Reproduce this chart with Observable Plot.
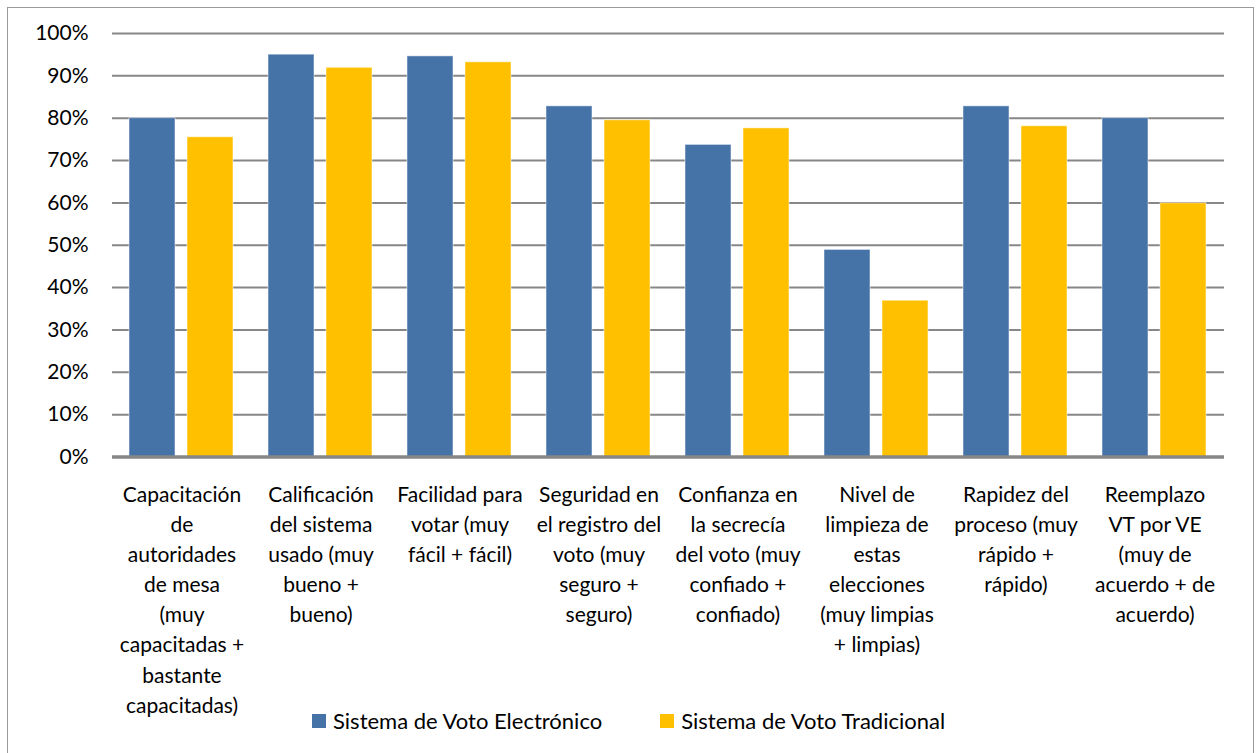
<!DOCTYPE html>
<html>
<head>
<meta charset="utf-8">
<script src="https://cdn.jsdelivr.net/npm/d3@7"></script>
<script src="https://cdn.jsdelivr.net/npm/@observablehq/plot@0.6"></script>
<style>
  html, body { margin: 0; padding: 0; background: #fff; overflow: hidden; }
  #wrap { position: relative; width: 1257px; height: 753px; overflow: hidden; font-family: Lato, "Open Sans", sans-serif; }
  #frame { position: absolute; left: 7px; top: 7px; width: 1247px; height: 800px; border: 1.5px solid #9a9a9a; box-sizing: border-box; }
  #chart { position: absolute; left: 0; top: 0; }
  #legend { position: absolute; top: 707px; left: 312px; display: flex; align-items: center; font-size: 22px; color: #000; }
  .item { display: flex; align-items: center; }
  .sw { width: 14px; height: 14px; margin-right: 7px; }
</style>
</head>
<body>
<div id="wrap">
  <div id="frame"></div>
  <div id="chart"></div>
  <div id="legend"></div>
</div>
<script>
const categories = ["Capacitación", "Calificación", "Facilidad", "Seguridad", "Confianza", "Nivel", "Rapidez", "Reemplazo"];
const tickLabels = [
  "Capacitación\nde\nautoridades\nde mesa\n(muy\ncapacitadas +\nbastante\ncapacitadas)",
  "Calificación\ndel sistema\nusado (muy\nbueno +\nbueno)",
  "Facilidad para\nvotar (muy\nfácil + fácil)",
  "Seguridad en\nel registro del\nvoto (muy\nseguro +\nseguro)",
  "Confianza en\nla secrecía\ndel voto (muy\nconfiado +\nconfiado)",
  "Nivel de\nlimpieza de\nestas\nelecciones\n(muy limpias\n+ limpias)",
  "Rapidez del\nproceso (muy\nrápido +\nrápido)",
  "Reemplazo\nVT por VE\n(muy de\nacuerdo + de\nacuerdo)"
];
const seriesNames = ["Sistema de Voto Electrónico", "Sistema de Voto Tradicional"];
const electronico = [0.80, 0.95, 0.946, 0.828, 0.737, 0.489, 0.828, 0.80];
const tradicional = [0.755, 0.919, 0.932, 0.795, 0.776, 0.369, 0.781, 0.599];
const seriesColors = ["#4572A7", "#FFC000"];
const yTicks = [0, 0.1, 0.2, 0.3, 0.4, 0.5, 0.6, 0.7, 0.8, 0.9, 1.0];
const gridTicks = [0.1, 0.2, 0.3, 0.4, 0.5, 0.6, 0.7, 0.8, 0.9, 1.0];

const data = [];
categories.forEach((c, i) => {
  data.push({category: c, series: seriesNames[0], value: electronico[i]});
  data.push({category: c, series: seriesNames[1], value: tradicional[i]});
});
const labelOf = new Map(categories.map((c, i) => [c, tickLabels[i]]));

const chart = Plot.plot({
  width: 1257,
  height: 753,
  marginLeft: 109,
  marginRight: 30,
  marginTop: 33,
  marginBottom: 296.5,
  style: {fontFamily: "Lato, 'Open Sans', sans-serif", fontSize: "21px", color: "#000", background: "transparent"},
  fx: {domain: categories, padding: 0, label: null},
  x: {domain: seriesNames, paddingInner: 0.2, paddingOuter: 0.29, axis: null},
  y: {domain: [0, 1], label: null},
  color: {domain: seriesNames, range: seriesColors},
  marks: [
    Plot.ruleY(gridTicks, {stroke: "#878787", strokeWidth: 2}),
    Plot.barY(data, {fx: "category", x: "series", y: "value", fill: "series", stroke: "#ffffff", strokeOpacity: 0.5, strokeWidth: 1}),
    Plot.ruleY([0], {stroke: "#878787", strokeWidth: 3.5}),
    Plot.axisY(yTicks, {tickSize: 0, tickPadding: 24, tickFormat: d3.format(".0%"), fontSize: 21, label: null}),
    Plot.axisFx({anchor: "bottom", tickSize: 0, tickPadding: 24, tickFormat: d => labelOf.get(d), fontSize: 21, lineHeight: 1.43, lineAnchor: "top", label: null})
  ]
});
document.getElementById("chart").appendChild(chart);

const legend = document.getElementById("legend");
seriesNames.forEach((s, i) => {
  const item = document.createElement("div");
  item.className = "item";
  item.style.marginRight = i === 0 ? "58px" : "0";
  const sw = document.createElement("div");
  sw.className = "sw";
  sw.style.background = seriesColors[i];
  const t = document.createElement("span");
  t.textContent = s;
  item.appendChild(sw);
  item.appendChild(t);
  legend.appendChild(item);
});
</script>
</body>
</html>
